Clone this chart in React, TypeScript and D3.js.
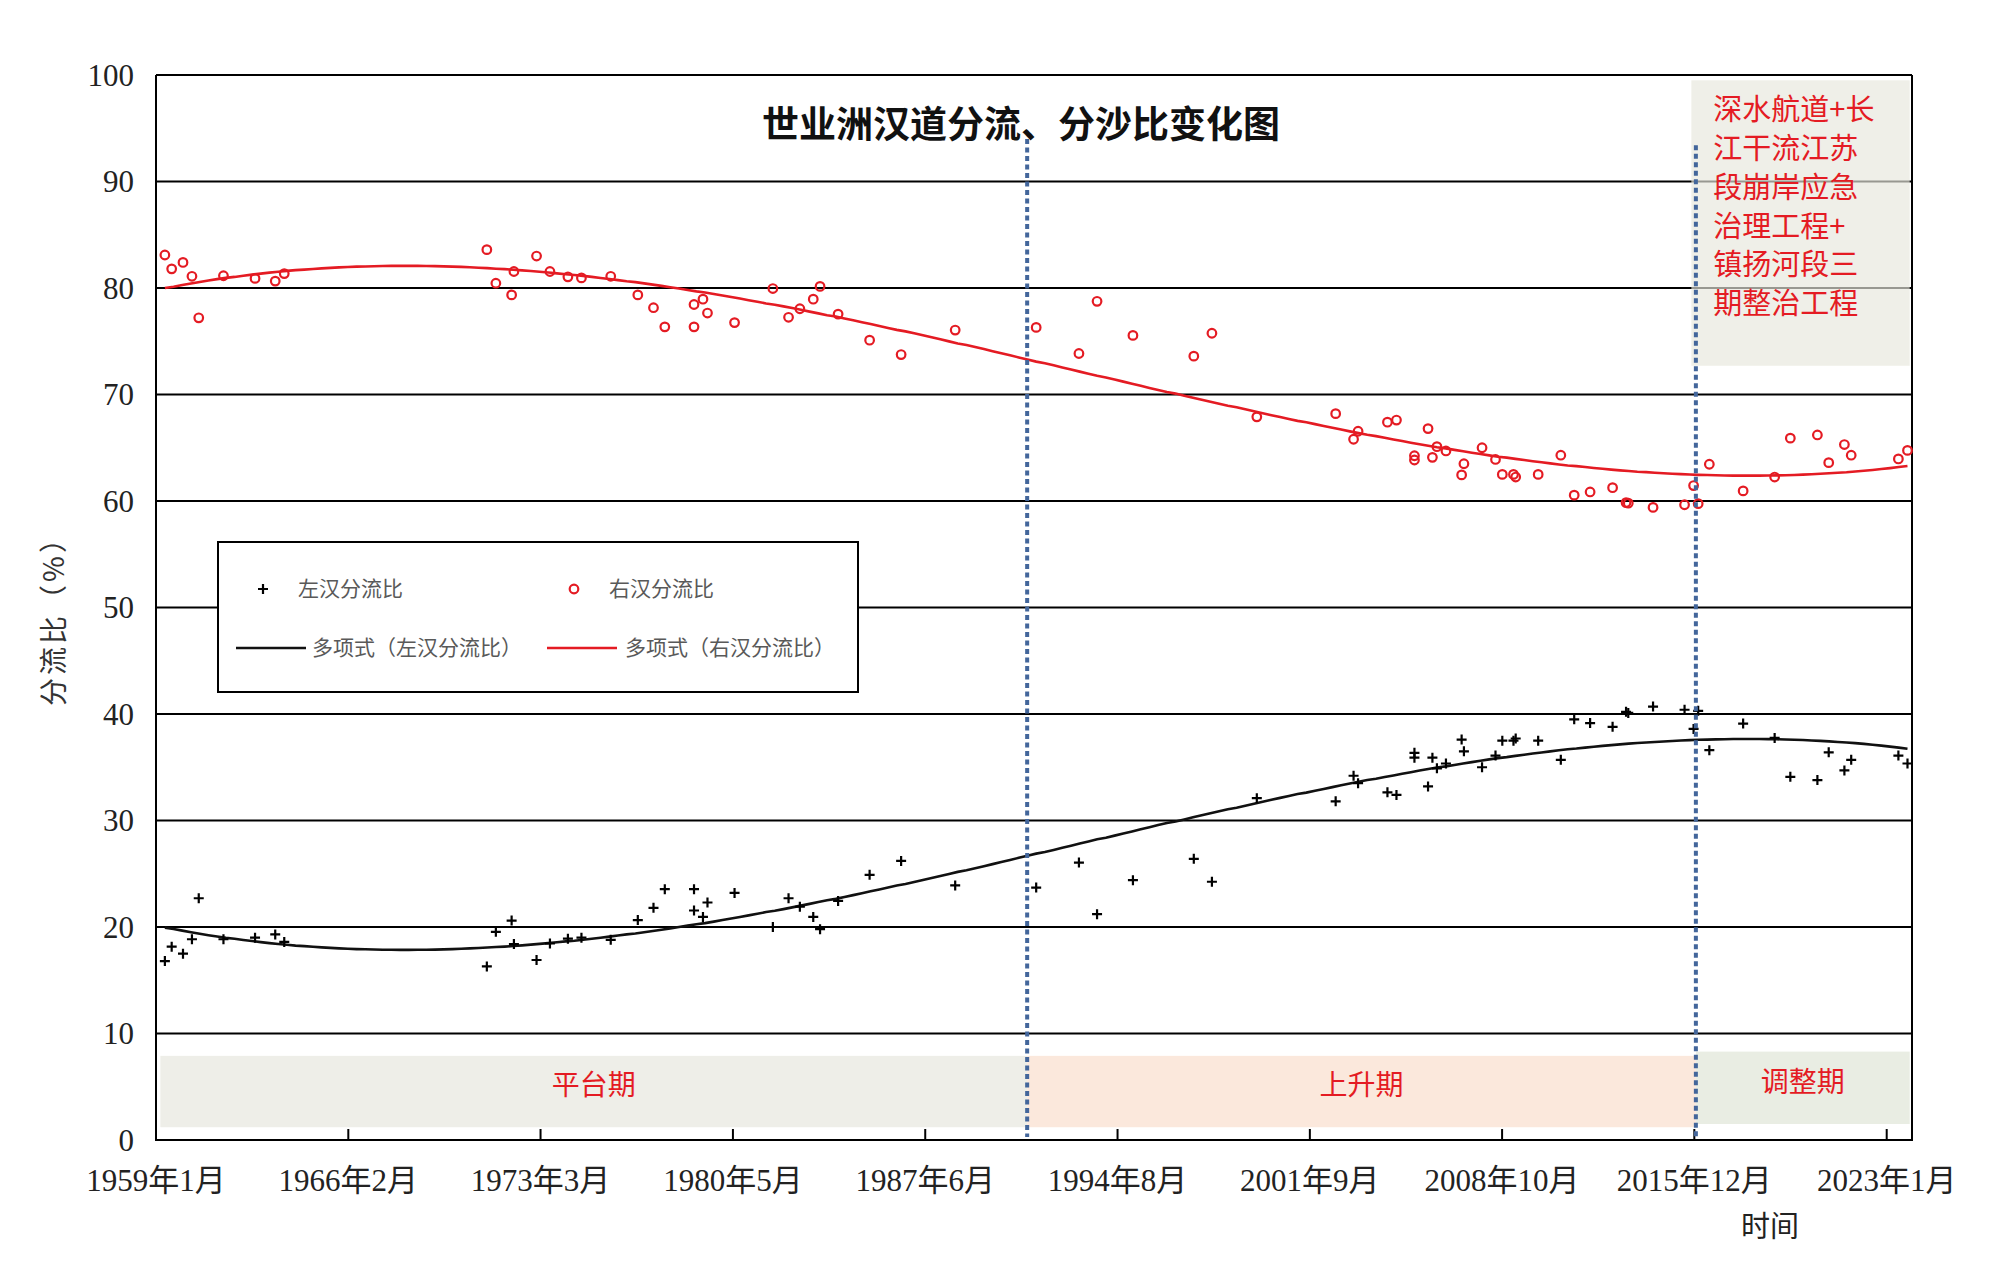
import { useEffect, useRef } from 'react'
import * as d3 from 'd3'

// sample dates (year-month) shared by both series
const sampleDates = [
  '1959-05', '1959-08', '1960-01', '1960-05', '1960-08', '1961-07', '1962-09', '1963-06', '1963-10',
  '1971-04', '1971-08', '1972-03', '1972-04', '1973-02', '1973-08', '1974-04', '1974-10',
  '1975-11', '1976-11', '1977-06', '1977-11', '1978-12', '1978-12', '1979-04', '1979-06', '1980-06',
  '1981-11', '1982-06', '1982-11', '1983-05', '1983-08', '1984-04', '1985-06', '1986-08', '1988-08', '1991-08',
  '1993-03', '1993-11', '1995-03', '1997-06', '1998-02', '1999-10',
  '2002-09', '2003-05', '2003-07', '2004-08', '2004-12', '2005-08', '2005-08',
  '2006-02', '2006-04', '2006-06', '2006-10', '2007-05', '2007-06', '2008-02', '2008-08', '2008-11',
  '2009-04', '2009-05', '2010-03', '2011-01', '2011-07', '2012-02', '2012-12', '2013-06', '2013-07', '2014-06',
  '2015-08', '2015-12', '2016-02', '2016-07', '2017-10', '2018-12', '2019-07', '2020-07', '2020-12',
  '2021-07', '2021-10', '2023-07', '2023-11',
]

// 右汉分流比 (%)
const rightRatio = [
  83.1, 81.8, 82.4, 81.1, 77.2, 81.15, 80.9, 80.65, 81.35,
  83.6, 80.45, 79.35, 81.55, 83.0, 81.55, 81.05, 80.95,
  81.1, 79.35, 78.15, 76.35, 78.45, 76.35, 78.95, 77.65, 76.75,
  79.95, 77.25, 78.05, 78.95, 80.15, 77.55, 75.1, 73.75, 76.05, 76.3,
  73.85, 78.75, 75.55, 73.6, 75.75, 67.9,
  68.2, 65.8, 66.55, 67.4, 67.6, 64.25, 63.85,
  66.8, 64.1, 65.1, 64.7, 62.45, 63.5, 65.0, 63.9, 62.5,
  62.5, 62.25, 62.5, 64.3, 60.55, 60.85, 61.25, 59.85, 59.8, 59.4,
  59.65, 61.45, 59.75, 63.45, 60.95, 62.25, 65.9, 66.2, 63.6,
  65.3, 64.3, 63.95, 64.75,
]

// 左汉分流比 (%)
const leftRatio = [
  16.8, 18.15, 17.5, 18.85, 22.7, 18.85, 19.0, 19.3, 18.6,
  16.3, 19.55, 20.6, 18.4, 16.9, 18.45, 18.9, 19.0,
  18.8, 20.65, 21.8, 23.55, 21.55, 23.55, 20.95, 22.3, 23.2,
  20.0, 22.7, 21.9, 20.95, 19.8, 22.45, 24.9, 26.2, 23.9, 23.7,
  26.05, 21.2, 24.4, 26.4, 24.25, 32.1,
  31.8, 34.2, 33.5, 32.65, 32.4, 35.9, 36.35,
  33.2, 35.9, 34.9, 35.35, 37.6, 36.5, 35.0, 36.1, 37.5,
  37.5, 37.7, 37.5, 35.7, 39.5, 39.15, 38.8, 40.2, 40.1, 40.7,
  40.4, 38.6, 40.3, 36.6, 39.1, 37.75, 34.1, 33.8, 36.4,
  34.7, 35.7, 36.1, 35.35,
]

const tickDates = [
  '1959-01-01', '1966-02-13', '1973-03-27', '1980-05-10', '1987-06-23',
  '1994-08-05', '2001-09-17', '2008-10-29', '2015-12-11', '2023-01-24',
]
const tickLabels = [
  '1959年1月', '1966年2月', '1973年3月', '1980年5月', '1987年6月',
  '1994年8月', '2001年9月', '2008年10月', '2015年12月', '2023年1月',
]
const yTicks = [0, 10, 20, 30, 40, 50, 60, 70, 80, 90, 100]

const periodNames = ['平台期', '上升期', '调整期']
const periodBounds = ['1959-03-01', '1991-04-01', '2016-01-01', '2023-12-01']
const periodColors = ['#eeeee8', '#fbe8dc', '#e9ede3']

const noteLines = ['深水航道+长', '江干流江苏', '段崩岸应急', '治理工程+', '镇扬河段三', '期整治工程']

const SERIF = "'Liberation Serif', 'Noto Sans CJK SC', serif"
const CJK = "'Noto Sans CJK SC', sans-serif"
const RED = '#e41b23'

function cubicFit(xs: number[], ys: number[]) {
  const n = 4
  const A = Array.from({ length: n }, () => new Array(n + 1).fill(0))
  xs.forEach((x, i) => {
    for (let r = 0; r < n; r++) {
      for (let c = 0; c < n; c++) A[r][c] += Math.pow(x, r + c)
      A[r][n] += ys[i] * Math.pow(x, r)
    }
  })
  for (let p = 0; p < n; p++) {
    let m = p
    for (let r = p + 1; r < n; r++) if (Math.abs(A[r][p]) > Math.abs(A[m][p])) m = r
    ;[A[p], A[m]] = [A[m], A[p]]
    for (let r = 0; r < n; r++) {
      if (r === p) continue
      const f = A[r][p] / A[p][p]
      for (let c = p; c <= n; c++) A[r][c] -= f * A[p][c]
    }
  }
  const coef = A.map((row, i) => row[n] / row[i])
  return (x: number) => coef.reduce((s, k, i) => s + k * Math.pow(x, i), 0)
}

export default function App() {
  const ref = useRef<SVGSVGElement | null>(null)
  useEffect(() => {
    if (!ref.current) return
    const svg = d3.select(ref.current)
    svg.selectAll('*').remove()

    const parseMonth = d3.timeParse('%Y-%m')
    const parseDay = d3.timeParse('%Y-%m-%d')
    const dates = sampleDates.map((s) => parseMonth(s)!)

    const x = d3
      .scaleTime()
      .domain([parseDay('1959-01-01')!, parseDay('2024-01-01')!])
      .range([156, 1912])
    const y = d3.scaleLinear().domain([0, 100]).range([1140, 75])

    // bands at bottom
    periodNames.forEach((name, i) => {
      const x0 = x(parseDay(periodBounds[i])!)
      const x1 = x(parseDay(periodBounds[i + 1])!)
      const top = i === 2 ? 8.3 : 7.9
      const bot = i === 2 ? 1.5 : 1.2
      svg
        .append('rect')
        .attr('x', x0)
        .attr('y', y(top))
        .attr('width', x1 - x0)
        .attr('height', y(bot) - y(top))
        .attr('fill', periodColors[i])
      svg
        .append('text')
        .attr('x', (x0 + x1) / 2)
        .attr('y', (y(top) + y(bot)) / 2 - 6)
        .attr('dy', '0.35em')
        .attr('text-anchor', 'middle')
        .attr('font-family', CJK)
        .attr('font-size', 28)
        .attr('fill', RED)
        .text(name)
    })

    // gridlines
    svg
      .append('g')
      .selectAll('line')
      .data(yTicks.slice(1))
      .enter()
      .append('line')
      .attr('x1', 156)
      .attr('x2', 1912)
      .attr('y1', (d) => y(d))
      .attr('y2', (d) => y(d))
      .attr('stroke', '#000')
      .attr('stroke-width', 2)

    // note box (semi transparent so gridlines show through)
    const nx0 = x(parseMonth('2015-11')!)
    const nx1 = x(parseMonth('2023-12')!)
    svg
      .append('rect')
      .attr('x', nx0)
      .attr('y', y(99.5))
      .attr('width', nx1 - nx0)
      .attr('height', y(72.7) - y(99.5))
      .attr('fill', '#e6e6dc')
      .attr('fill-opacity', 0.66)
    svg
      .append('g')
      .selectAll('text')
      .data(noteLines)
      .enter()
      .append('text')
      .attr('x', nx0 + 22)
      .attr('y', (_d, i) => 110 + i * 38.8)
      .attr('dy', '0.35em')
      .attr('font-family', CJK)
      .attr('font-size', 29)
      .attr('fill', RED)
      .text((d) => d)

    // axes frame
    const axis = svg.append('g').attr('stroke', '#000').attr('stroke-width', 2)
    axis.append('line').attr('x1', 156).attr('x2', 156).attr('y1', y(100)).attr('y2', y(0))
    axis.append('line').attr('x1', 1912).attr('x2', 1912).attr('y1', y(100)).attr('y2', y(0))
    axis.append('line').attr('x1', 155).attr('x2', 1913).attr('y1', y(0)).attr('y2', y(0))

    const xTicks = tickDates.map((s) => parseDay(s)!)
    svg
      .append('g')
      .selectAll('line')
      .data(xTicks)
      .enter()
      .append('line')
      .attr('x1', (d) => x(d))
      .attr('x2', (d) => x(d))
      .attr('y1', y(0))
      .attr('y2', y(0) - 11)
      .attr('stroke', '#000')
      .attr('stroke-width', 2)
    svg
      .append('g')
      .selectAll('text')
      .data(xTicks)
      .enter()
      .append('text')
      .attr('x', (d) => x(d))
      .attr('y', 1191)
      .attr('text-anchor', 'middle')
      .attr('font-family', SERIF)
      .attr('font-size', 31)
      .attr('fill', '#222')
      .text((_d, i) => tickLabels[i])
    svg
      .append('g')
      .selectAll('text')
      .data(yTicks)
      .enter()
      .append('text')
      .attr('x', 134)
      .attr('y', (d) => y(d))
      .attr('dy', '0.35em')
      .attr('text-anchor', 'end')
      .attr('font-family', SERIF)
      .attr('font-size', 31)
      .attr('fill', '#222')
      .text((d) => d)

    svg
      .append('text')
      .attr('x', 1770)
      .attr('y', 1227)
      .attr('dy', '0.35em')
      .attr('text-anchor', 'middle')
      .attr('font-family', CJK)
      .attr('font-size', 29)
      .attr('fill', '#222')
      .text('时间')
    svg
      .append('text')
      .attr('transform', 'translate(54,614) rotate(-90)')
      .attr('dy', '0.35em')
      .attr('text-anchor', 'middle')
      .attr('font-family', CJK)
      .attr('font-size', 28)
      .attr('letter-spacing', 3)
      .attr('fill', '#333')
      .text('分流比（%）')

    // title
    svg
      .append('text')
      .attr('x', 1021)
      .attr('y', 125)
      .attr('dy', '0.35em')
      .attr('text-anchor', 'middle')
      .attr('font-family', CJK)
      .attr('font-weight', 'bold')
      .attr('font-size', 37)
      .attr('fill', '#111')
      .text('世业洲汉道分流、分沙比变化图')

    // trend lines (cubic least squares, as the spreadsheet's 多项式 trendline)
    const toT = (d: Date) => (d.getFullYear() + d.getMonth() / 12 - 1991) / 33
    const ts = dates.map(toT)
    const fitR = cubicFit(ts, rightRatio)
    const fitL = cubicFit(ts, leftRatio)
    const d0 = dates[0]
    const d1 = dates[dates.length - 1]
    const samples = d3.range(0, 201).map((i) => new Date(+d0 + ((+d1 - +d0) * i) / 200))
    const line = (f: (t: number) => number) =>
      d3
        .line<Date>()
        .x((d) => x(d))
        .y((d) => y(f(toT(d))))(samples)
    svg.append('path').attr('d', line(fitL)).attr('fill', 'none').attr('stroke', '#111').attr('stroke-width', 2.6)
    svg.append('path').attr('d', line(fitR)).attr('fill', 'none').attr('stroke', RED).attr('stroke-width', 2.6)

    // markers
    svg
      .append('g')
      .selectAll('path')
      .data(leftRatio)
      .enter()
      .append('path')
      .attr('transform', (d, i) => `translate(${x(dates[i])},${y(d)})`)
      .attr('d', 'M-5,0H5M0,-5V5')
      .attr('stroke', '#000')
      .attr('stroke-width', 2.2)
    svg
      .append('g')
      .selectAll('circle')
      .data(rightRatio)
      .enter()
      .append('circle')
      .attr('cx', (_d, i) => x(dates[i]))
      .attr('cy', (d) => y(d))
      .attr('r', 4.3)
      .attr('fill', 'none')
      .attr('stroke', RED)
      .attr('stroke-width', 2.2)

    // period boundaries
    const tops = [94, 93.4]
    periodBounds.slice(1, 3).forEach((s, i) => {
      const px = x(parseDay(s)!)
      svg
        .append('line')
        .attr('x1', px)
        .attr('x2', px)
        .attr('y1', y(tops[i]))
        .attr('y2', y(0) - 3)
        .attr('stroke', '#43669b')
        .attr('stroke-width', 4)
        .attr('stroke-dasharray', '5 3.5')
    })

    // legend
    const lg = svg.append('g')
    lg.append('rect')
      .attr('x', 218)
      .attr('y', 542)
      .attr('width', 640)
      .attr('height', 150)
      .attr('fill', '#fff')
      .attr('stroke', '#000')
      .attr('stroke-width', 2)
    lg.append('path').attr('d', 'M258,589H268M263,584V594').attr('stroke', '#000').attr('stroke-width', 2.2)
    lg.append('circle').attr('cx', 574).attr('cy', 589).attr('r', 4.3).attr('fill', 'none').attr('stroke', RED).attr('stroke-width', 2.2)
    lg.append('line').attr('x1', 236).attr('x2', 306).attr('y1', 648).attr('y2', 648).attr('stroke', '#111').attr('stroke-width', 2.6)
    lg.append('line').attr('x1', 547).attr('x2', 617).attr('y1', 648).attr('y2', 648).attr('stroke', RED).attr('stroke-width', 2.6)
    const legendTexts = [
      { t: '左汉分流比', x: 298, y: 589 },
      { t: '右汉分流比', x: 609, y: 589 },
      { t: '多项式（左汉分流比）', x: 312, y: 648 },
      { t: '多项式（右汉分流比）', x: 625, y: 648 },
    ]
    lg.selectAll('text')
      .data(legendTexts)
      .enter()
      .append('text')
      .attr('x', (d) => d.x)
      .attr('y', (d) => d.y)
      .attr('dy', '0.35em')
      .attr('font-family', CJK)
      .attr('font-size', 21)
      .attr('fill', '#595959')
      .text((d) => d.t)
  }, [])
  return (
    <svg
      ref={ref}
      width={2000}
      height={1266}
      style={{ position: 'absolute', left: 0, top: 0, background: '#fff' }}
    />
  )
}
